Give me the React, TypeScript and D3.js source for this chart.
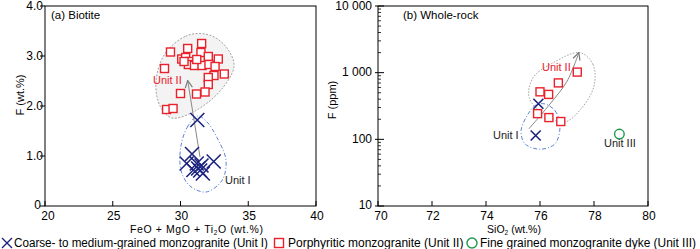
import * as d3 from "d3";

// (a) Biotite: Unit I (crosses) and Unit II (squares), FeO+MgO+Ti2O vs F (wt.%)
const bioUnit1X = [31.24, 30.85, 30.45, 32.45, 31.2, 31.55, 31.3, 31.45, 31.65, 30.95];
const bioUnit1F = [1.72, 1.04, 0.85, 0.89, 0.85, 0.81, 0.75, 0.71, 0.65, 0.72];
const bioUnit2X = [29.26, 30.53, 31.56, 31.51, 30.09, 30.38, 30.7, 30.58, 31.03, 31.59, 32.05, 32.79, 32.1, 32.55, 33.23, 32.47, 32.05, 32.05, 28.82, 30.0, 31.18, 31.81, 28.97, 29.45, 30.26, 31.2];
const bioUnit2F = [3.08, 3.15, 3.25, 3.07, 2.94, 2.97, 2.89, 2.83, 2.81, 2.81, 2.99, 2.94, 2.83, 2.79, 2.64, 2.61, 2.57, 2.43, 2.75, 2.25, 2.24, 2.28, 1.93, 1.95, 2.89, 2.93];

// outlined fields and trend arrow (a)
const bioField2X = [31.44, 30.33, 28.86, 28.19, 28.49, 29.37, 31.07, 32.92, 33.95, 33.51, 32.55];
const bioField2F = [3.45, 3.39, 3.05, 2.5, 2.0, 1.76, 1.9, 2.3, 2.79, 3.13, 3.37];
const bioField1X = [31.29, 30.55, 30.04, 30.04, 30.7, 31.88, 33.06, 33.36, 32.69, 31.96];
const bioField1F = [1.8, 1.6, 1.21, 0.71, 0.4, 0.28, 0.51, 0.91, 1.37, 1.68];
const bioArrowX = [31.44, 30.53];
const bioArrowF = [0.98, 2.51];

// (b) Whole-rock: SiO2 vs F (ppm)
const wrUnit1X = [75.94, 75.84];
const wrUnit1F = [342, 114];
const wrUnit2X = [77.38, 76.68, 76.0, 76.32, 75.91, 76.33, 76.77];
const wrUnit2F = [1020, 702, 516, 472, 243, 212, 185];
const wrUnit3X = [78.94];
const wrUnit3F = [120];

const wrField2X = [77.48, 77.96, 78.0, 77.5, 76.9, 76.2, 75.6, 75.75, 76.45];
const wrField2F = [2000, 1330, 630, 280, 180, 230, 420, 850, 1380];
const wrField1X = [76.19, 76.56, 76.74, 76.56, 76.0, 75.44, 75.3, 75.56, 75.85];
const wrField1F = [339, 267, 160, 86, 71, 86, 135, 240, 327];
const wrArrowX = [75.59, 76.37, 77.0, 77.44];
const wrArrowF = [144, 339, 743, 2000];

const aTicksX = [20, 25, 30, 35, 40];
const aTicksY = [0, 1, 2, 3, 4];
const aTickLabelsY = ["0", "1.0", "2.0", "3.0", "4.0"];
const bTicksX = [70, 72, 74, 76, 78, 80];
const bTicksY = [10, 100, 1000, 10000];
const bTickLabelsY = ["10", "100", "1 000", "10 000"];

const legendLabels = [
  "Coarse- to medium-grained monzogranite (Unit I)",
  "Porphyritic monzogranite (Unit II)",
  "Fine grained monzogranite dyke (Unit III)",
];

const RED = "#e8212b";
const BLUE = "#1b237f";
const GREEN = "#1e9a4c";
const FONT = "'Liberation Sans', Arial, sans-serif";

const pts = (xs: number[], ys: number[]) => xs.map((x, i) => [x, ys[i]] as [number, number]);

function Cross({ x, y, r, w = 1.6 }: { x: number; y: number; r: number; w?: number }) {
  return (
    <path
      d={`M${x - r},${y - r}L${x + r},${y + r}M${x - r},${y + r}L${x + r},${y - r}`}
      stroke={BLUE}
      strokeWidth={w}
      fill="none"
    />
  );
}

function Square({ x, y, s }: { x: number; y: number; s: number }) {
  return <rect x={x - s / 2} y={y - s / 2} width={s} height={s} fill="#fff" stroke={RED} strokeWidth={1.4} />;
}

export default function App() {
  const top = 6;
  const bottom = 206;
  // panel (a)
  const xa = d3.scaleLinear().domain([20, 40]).range([45, 316]);
  const ya = d3.scaleLinear().domain([0, 4]).range([bottom, top]);
  // panel (b)
  const xb = d3.scaleLinear().domain([70, 80]).range([378, 648]);
  const yb = d3.scaleLog().domain([10, 10000]).range([bottom, top]);

  const closedA = d3
    .line<[number, number]>()
    .x((d) => xa(d[0]))
    .y((d) => ya(d[1]))
    .curve(d3.curveCatmullRomClosed.alpha(0.5));
  const closedB = d3
    .line<[number, number]>()
    .x((d) => xb(d[0]))
    .y((d) => yb(d[1]))
    .curve(d3.curveCatmullRomClosed.alpha(0.5));
  const openB = d3
    .line<[number, number]>()
    .x((d) => xb(d[0]))
    .y((d) => yb(d[1]))
    .curve(d3.curveCatmullRom.alpha(0.5));

  const minorB: number[] = [];
  for (const dec of [10, 100, 1000]) for (let k = 2; k <= 9; k++) minorB.push(dec * k);

  return (
    <svg width={700} height={249} style={{ position: "absolute", left: 0, top: 0 }} fontFamily={FONT}>
      <defs>
        <marker id="arr" viewBox="0 0 10 10" refX={9} refY={5} markerWidth={9} markerHeight={9} orient="auto">
          <path d="M1,1L9,5L1,9" fill="none" stroke="#777" strokeWidth={1.3} />
        </marker>
      </defs>

      {/* ---------- panel a ---------- */}
      <path d={closedA(pts(bioField2X, bioField2F)) || ""} fill="#f3f3f3" stroke="#999" strokeWidth={0.9} strokeDasharray="2,1.5" />
      <path d={closedA(pts(bioField1X, bioField1F)) || ""} fill="none" stroke="#5d83d6" strokeWidth={1} strokeDasharray="4,2,1,2" />
      <line
        x1={xa(bioArrowX[0])}
        y1={ya(bioArrowF[0])}
        x2={xa(bioArrowX[1])}
        y2={ya(bioArrowF[1])}
        stroke="#888"
        strokeWidth={1}
        markerEnd="url(#arr)"
      />
      {bioUnit2X.map((x, i) => (
        <Square key={"s" + i} x={xa(x)} y={ya(bioUnit2F[i])} s={8} />
      ))}
      {bioUnit1X.map((x, i) => (
        <Cross key={"c" + i} x={xa(x)} y={ya(bioUnit1F[i])} r={7} />
      ))}
      <text x={153} y={84} fill={RED} fontSize={11}>Unit II</text>
      <text x={225} y={184} fill="#222" fontSize={11}>Unit I</text>
      <text x={51} y={19} fontSize={11.5}>(a) Biotite</text>

      <rect x={45} y={top} width={271} height={bottom - top} fill="none" stroke="#000" strokeWidth={1} />
      {aTicksX.map((t, i) => (
        <g key={"ax" + t}>
          <line x1={xa(t)} x2={xa(t)} y1={bottom} y2={bottom - 5} stroke="#000" />
          <text x={xa(t) + (i === 0 ? 3 : 1)} y={219.5} textAnchor="middle" fontSize={12}>{t}</text>
        </g>
      ))}
      {aTicksY.map((t, i) => (
        <g key={"ay" + t}>
          <line x1={40} x2={45} y1={ya(t)} y2={ya(t)} stroke="#000" />
          <text x={i === 0 ? 41 : 43} y={ya(t) + (i === 0 ? 2.5 : 3.8)} textAnchor="end" fontSize={12}>{aTickLabelsY[i]}</text>
        </g>
      ))}
      <text transform="translate(24,95) rotate(-90)" textAnchor="middle" fontSize={11}>F (wt.%)</text>
      <text x={130} y={233} fontSize={10.5} textLength={133} lengthAdjust="spacing">
        FeO + MgO + Ti<tspan fontSize={6.5} dy={1.5}>2</tspan><tspan dy={-1.5}>O (wt.%)</tspan>
      </text>

      {/* ---------- panel b ---------- */}
      <path d={closedB(pts(wrField2X, wrField2F)) || ""} fill="none" stroke="#999" strokeWidth={0.9} strokeDasharray="1.5,1.5" />
      <path d={closedB(pts(wrField1X, wrField1F)) || ""} fill="none" stroke="#5d83d6" strokeWidth={1} strokeDasharray="4,2,1,2" />
      <path d={openB(pts(wrArrowX, wrArrowF)) || ""} fill="none" stroke="#888" strokeWidth={1} markerEnd="url(#arr)" />
      {wrUnit2X.map((x, i) => (
        <Square key={"bs" + i} x={xb(x)} y={yb(wrUnit2F[i])} s={8} />
      ))}
      {wrUnit1X.map((x, i) => (
        <Cross key={"bc" + i} x={xb(x)} y={yb(wrUnit1F[i])} r={5} />
      ))}
      {wrUnit3X.map((x, i) => (
        <circle key={"bo" + i} cx={xb(x)} cy={yb(wrUnit3F[i])} r={4.8} fill="none" stroke={GREEN} strokeWidth={1.4} />
      ))}
      <text x={542} y={71} fill={RED} fontSize={11}>Unit II</text>
      <text x={493} y={139} fill="#222" fontSize={11}>Unit I</text>
      <text x={604} y={147} fill="#222" fontSize={11}>Unit III</text>
      <text x={403} y={19} fontSize={11.5}>(b) Whole-rock</text>

      <rect x={378} y={top} width={270} height={bottom - top} fill="none" stroke="#000" strokeWidth={1} />
      {bTicksX.map((t, i) => (
        <g key={"bx" + t}>
          <line x1={xb(t)} x2={xb(t)} y1={bottom} y2={bottom - 5} stroke="#000" />
          <text x={xb(t) + (i === 0 ? 3 : 1)} y={219.5} textAnchor="middle" fontSize={12}>{t}</text>
        </g>
      ))}
      {bTicksY.map((t, i) => (
        <g key={"by" + t}>
          <line x1={375} x2={384} y1={yb(t)} y2={yb(t)} stroke="#000" />
          <text x={372} y={yb(t) + (i === 0 ? 2.5 : 3.8)} textAnchor="end" fontSize={12}>{bTickLabelsY[i]}</text>
        </g>
      ))}
      {minorB.map((t) => (
        <line key={"bm" + t} x1={378} x2={381} y1={yb(t)} y2={yb(t)} stroke="#000" strokeWidth={0.8} />
      ))}
      <text transform="translate(336,100) rotate(-90)" textAnchor="middle" fontSize={11}>F (ppm)</text>
      <text x={514} y={233} textAnchor="middle" fontSize={10.5}>
        SiO<tspan fontSize={6.5} dy={1.5}>2</tspan><tspan dy={-1.5}> (wt.%)</tspan>
      </text>

      {/* ---------- legend ---------- */}
      <Cross x={7} y={243} r={5} w={1.4} />
      <text x={14} y={247} fontSize={12} textLength={254} lengthAdjust="spacingAndGlyphs">{legendLabels[0]}</text>
      <Square x={279} y={243} s={9} />
      <text x={288} y={247} fontSize={12}>{legendLabels[1]}</text>
      <circle cx={472} cy={243} r={5} fill="none" stroke={GREEN} strokeWidth={1.4} />
      <text x={480} y={247} fontSize={12} textLength={216} lengthAdjust="spacingAndGlyphs">{legendLabels[2]}</text>
    </svg>
  );
}
